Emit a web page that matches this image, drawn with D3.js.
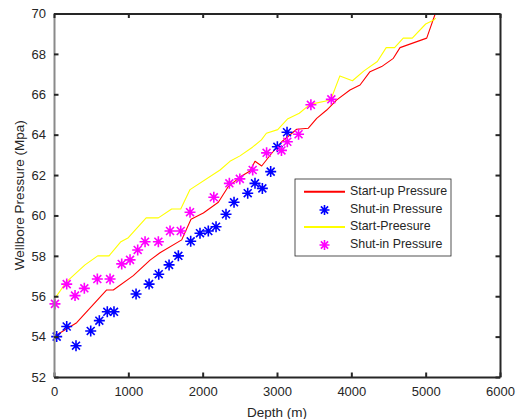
<!DOCTYPE html>
<html>
<head>
<meta charset="utf-8">
<script src="https://cdn.jsdelivr.net/npm/d3@7"></script>
<style>
  html, body { margin: 0; padding: 0; background: #fff; }
  svg { display: block; font-family: "Liberation Sans", Arial, sans-serif; }
</style>
</head>
<body>
<svg id="chart" width="518" height="419"></svg>
<script>
// Start-up pressure curve (depth m, pressure MPa)
const startupDepth = [13, 305, 709, 798, 1067, 1292, 1426, 1718, 1843, 2009, 2211, 2345, 2502, 2637, 2704, 2794, 2929, 3063, 3265, 3422, 3534, 3669, 3804, 3982, 4117, 4251, 4408, 4565, 4655, 5014, 5130];
const startupPressure = [54.03, 54.69, 56.31, 56.31, 57.02, 57.79, 58.15, 58.79, 59.81, 60.12, 60.65, 61.43, 61.9, 62.2, 62.68, 62.45, 63.08, 63.65, 64.27, 64.32, 64.81, 65.22, 65.72, 66.21, 66.46, 67.12, 67.37, 67.78, 68.31, 68.78, 70.0];

// Shut-in pressure measurements (first set)
const shutin1Depth = [36, 171, 296, 494, 610, 717, 807, 1104, 1279, 1409, 1548, 1673, 1839, 1964, 2076, 2180, 2314, 2422, 2606, 2704, 2803, 2915, 3005, 3135];
const shutin1Pressure = [54.0, 54.5, 53.55, 54.28, 54.79, 55.23, 55.23, 56.11, 56.6, 57.09, 57.55, 58.0, 58.72, 59.12, 59.23, 59.44, 60.06, 60.65, 61.1, 61.59, 61.34, 62.17, 63.4, 64.12];

// Start pressure curve
const startDepth = [13, 171, 417, 588, 740, 900, 1000, 1240, 1404, 1583, 1705, 1830, 2234, 2367, 2502, 2670, 2790, 2857, 3010, 3140, 3300, 3444, 3722, 3846, 4015, 4170, 4350, 4469, 4582, 4698, 4820, 5000, 5110, 5135];
const startPressure = [55.9, 56.72, 57.55, 58.0, 58.0, 58.7, 58.9, 59.88, 59.88, 60.32, 60.32, 61.28, 62.25, 62.68, 62.95, 63.38, 63.74, 64.07, 64.25, 64.77, 65.06, 65.5, 65.72, 66.91, 66.67, 67.16, 67.62, 68.31, 68.31, 68.78, 68.78, 69.48, 69.68, 69.77];

// Shut-in pressure measurements (second set)
const shutin2Depth = [13, 171, 283, 408, 583, 754, 911, 1023, 1126, 1225, 1404, 1561, 1705, 1830, 2150, 2359, 2500, 2673, 2860, 3060, 3139, 3290, 3456, 3731];
const shutin2Pressure = [55.62, 56.6, 56.03, 56.39, 56.85, 56.85, 57.6, 57.8, 58.29, 58.7, 58.7, 59.23, 59.23, 60.16, 60.9, 61.59, 61.81, 62.25, 63.1, 63.22, 63.65, 64.02, 65.48, 65.75];

const xTicks = [0, 1000, 2000, 3000, 4000, 5000, 6000];
const yTicks = [52, 54, 56, 58, 60, 62, 64, 66, 68, 70];
const legendLabels = ["Start-up Pressure", "Shut-in Pressure", "Start-Preesure", "Shut-in Pressure"];

const plot = { left: 54, right: 500, top: 13.5, bottom: 377 };
const axisColor = "#262626";

const svg = d3.select("#chart");
const x = d3.scaleLinear().domain([0, 6000]).range([plot.left, plot.right]);
const y = d3.scaleLinear().domain([52, 70]).range([plot.bottom, plot.top]);

svg.append("defs").append("clipPath").attr("id", "plotClip")
  .append("rect")
  .attr("x", plot.left).attr("y", plot.top)
  .attr("width", plot.right - plot.left).attr("height", plot.bottom - plot.top);

const zip = (a, b) => a.map((v, i) => [v, b[i]]);
const line = d3.line().x(d => x(d[0])).y(d => y(d[1]));

// lines are clipped to the axes box; markers are drawn whole
const lineLayer = svg.append("g").attr("clip-path", "url(#plotClip)");
const markLayer = svg.append("g");

// asterisk marker: plus + cross
function asterisk(sel, r) {
  const d = r * 0.72;
  sel.append("path")
    .attr("d", `M${-r},0H${r}M0,${-r}V${r}M${-d},${-d}L${d},${d}M${-d},${d}L${d},${-d}`);
}

function drawLine(data, color) {
  lineLayer.append("path")
    .datum(data)
    .attr("d", line)
    .attr("fill", "none")
    .attr("stroke", color)
    .attr("stroke-width", 1.1)
    .attr("stroke-linejoin", "round");
}

function drawStars(data, color) {
  const g = markLayer.append("g")
    .attr("stroke", color).attr("stroke-width", 1.6).attr("fill", "none");
  g.selectAll("g").data(data).join("g")
    .attr("transform", d => `translate(${x(d[0])},${y(d[1])})`)
    .each(function () { asterisk(d3.select(this), 5.5); });
}

// Axes: bottom, left, plus mirrored top/right ticks (box)
const tickLen = 4.5;
const tickFont = "13px";
const labelFont = "13.5px";
const legendFont = "12.4px";

const xAxis = svg.append("g").attr("transform", `translate(0,${plot.bottom})`)
  .call(d3.axisBottom(x).tickValues(xTicks).tickFormat(d3.format("d")).tickSizeInner(-tickLen).tickSizeOuter(0).tickPadding(10));
const yAxis = svg.append("g").attr("transform", `translate(${plot.left},0)`)
  .call(d3.axisLeft(y).tickValues(yTicks).tickFormat(d3.format("d")).tickSizeInner(-tickLen).tickSizeOuter(0).tickPadding(8));
const xTop = svg.append("g").attr("transform", `translate(0,${plot.top})`)
  .call(d3.axisTop(x).tickValues(xTicks).tickFormat("").tickSizeInner(-tickLen).tickSizeOuter(0));
const yRight = svg.append("g").attr("transform", `translate(${plot.right},0)`)
  .call(d3.axisRight(y).tickValues(yTicks).tickFormat("").tickSizeInner(-tickLen).tickSizeOuter(0));

[xAxis, yAxis, xTop, yRight].forEach(g => {
  g.selectAll(".domain").attr("stroke", axisColor).attr("stroke-width", 2);
  g.selectAll(".tick line").attr("stroke", axisColor).attr("stroke-width", 2);
  g.selectAll("text").attr("fill", axisColor).style("font-size", tickFont)
    .style("font-family", "'Liberation Sans', Arial, sans-serif");
});
yAxis.select(".domain").attr("stroke", "#8a8a8a");

drawLine(zip(startupDepth, startupPressure), "#ff0000");
drawStars(zip(shutin1Depth, shutin1Pressure), "#0000ff");
drawLine(zip(startDepth, startPressure), "#ffff00");
drawStars(zip(shutin2Depth, shutin2Pressure), "#ff00ff");

// Axis titles
svg.append("text")
  .attr("x", (plot.left + plot.right) / 2).attr("y", 413)
  .attr("text-anchor", "middle").attr("dominant-baseline", "middle")
  .attr("fill", axisColor).style("font-size", labelFont)
  .text("Depth (m)");
svg.append("text")
  .attr("transform", `translate(20,${(plot.top + plot.bottom) / 2}) rotate(-90)`)
  .attr("text-anchor", "middle").attr("dominant-baseline", "middle")
  .attr("fill", axisColor).style("font-size", labelFont)
  .text("Wellbore Pressure (Mpa)");

// Legend
const legend = svg.append("g").attr("transform", "translate(295,179)");
legend.append("rect")
  .attr("width", 156).attr("height", 77)
  .attr("fill", "#fff").attr("stroke", axisColor).attr("stroke-width", 0.8);
const legendColors = ["#ff0000", "#0000ff", "#ffff00", "#ff00ff"];
const legendKinds = ["line", "star", "line", "star"];
const rowY = [12.7, 31, 48, 66];
legendLabels.forEach((label, i) => {
  const row = legend.append("g").attr("transform", `translate(0,${rowY[i]})`);
  if (legendKinds[i] === "line") {
    row.append("line").attr("x1", 9).attr("x2", 50).attr("y1", 0).attr("y2", 0)
      .attr("stroke", legendColors[i]).attr("stroke-width", 2);
  } else {
    const s = row.append("g").attr("transform", "translate(29.5,0)")
      .attr("stroke", legendColors[i]).attr("stroke-width", 1.6);
    asterisk(s, 5);
  }
  row.append("text").attr("x", 55).attr("y", 0)
    .attr("dominant-baseline", "middle").attr("fill", axisColor)
    .style("font-size", legendFont).text(label);
});
</script>
</body>
</html>
